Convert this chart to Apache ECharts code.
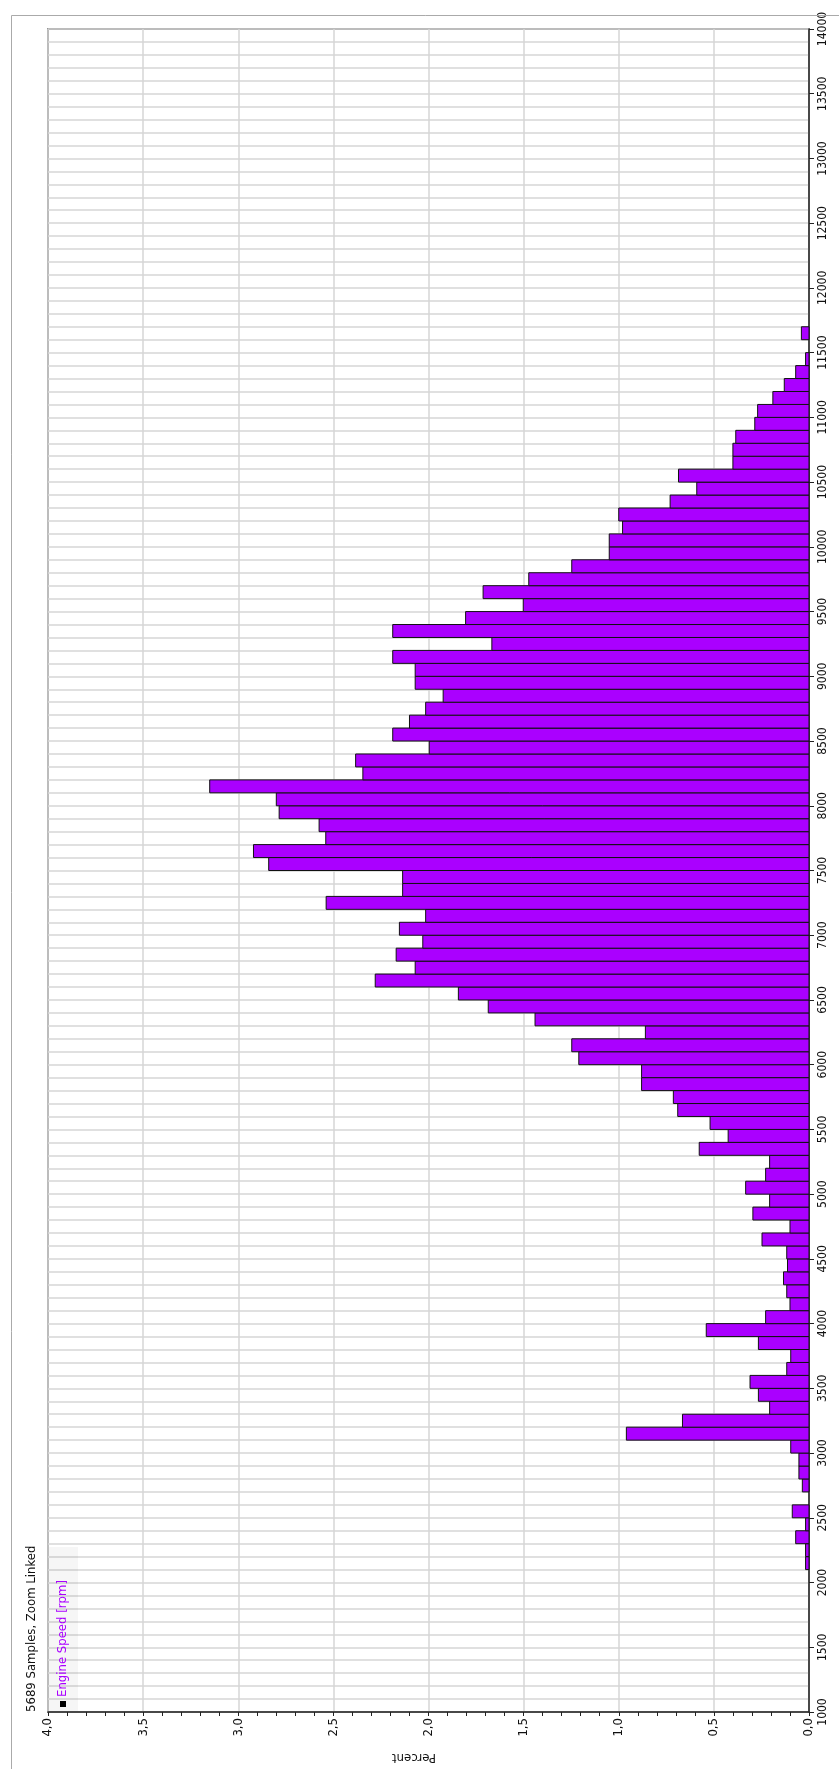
<!DOCTYPE html>
<html>
<head>
<meta charset="utf-8">
<script src="https://cdn.jsdelivr.net/npm/echarts@6/dist/echarts.min.js"></script>
<style>
html,body{margin:0;padding:0;background:#fff;}
#chart{width:839px;height:1769px;}
</style>
</head>
<body>
<div id="chart"></div>
<script>
// rpm bin lower edges (bins are 100 rpm wide)
const rpmStart = [2100,2200,2300,2400,2500,2600,2700,2800,2900,3000,
  3100,3200,3300,3400,3500,3600,3700,3800,3900,4000,
  4100,4200,4300,4400,4500,4600,4700,4800,4900,5000,
  5100,5200,5300,5400,5500,5600,5700,5800,5900,6000,
  6100,6200,6300,6400,6500,6600,6700,6800,6900,7000,
  7100,7200,7300,7400,7500,7600,7700,7800,7900,8000,
  8100,8200,8300,8400,8500,8600,8700,8800,8900,9000,
  9100,9200,9300,9400,9500,9600,9700,9800,9900,10000,
  10100,10200,10300,10400,10500,10600,10700,10800,10900,11000,
  11100,11200,11300,11400,11500,11600];
const rpmEnd = rpmStart.map(r => r + 100);
// percent of samples in each bin
const percent = [0.018,0.018,0.07,0.018,0.088,0,0.035,0.053,0.053,0.096,
  0.96,0.665,0.207,0.266,0.31,0.117,0.096,0.266,0.54,0.228,
  0.10,0.117,0.134,0.113,0.117,0.247,0.10,0.295,0.207,0.333,
  0.228,0.207,0.577,0.425,0.52,0.69,0.713,0.88,0.88,1.21,
  1.247,0.86,1.44,1.686,1.843,2.28,2.07,2.17,2.03,2.153,
  2.015,2.538,2.136,2.136,2.84,2.92,2.54,2.575,2.785,2.80,
  3.15,2.345,2.383,1.996,2.188,2.10,2.015,1.923,2.07,2.07,
  2.188,1.667,2.188,1.805,1.502,1.713,1.473,1.247,1.05,1.05,
  0.98,1.0,0.73,0.59,0.686,0.40,0.40,0.385,0.285,0.27,
  0.19,0.13,0.07,0.018,0,0.04];
const rpmTicks = {min: 1000, max: 14000, step: 500};
const pctTicks = {min: 0, max: 4, step: 0.5};
const titleText = '5689 Samples, Zoom Linked';
const seriesName = 'Engine Speed [rpm]';
const xName = 'Percent';

const FONT = "'Liberation Sans Narrow','DejaVu Sans Condensed','Liberation Sans',sans-serif";
const PURPLE = '#aa00ff';
const GRIDC = '#d6d6d6';

const data = rpmStart.map((r, i) => [r, rpmEnd[i], percent[i]]);

const chart = echarts.init(document.getElementById('chart'), null, {renderer: 'canvas'});
chart.setOption({
  animation: false,
  backgroundColor: '#fff',
  grid: {left: 48, right: 30, top: 29, bottom: 57, show: true, borderColor: '#444', borderWidth: 1.5, backgroundColor: '#fff'},
  xAxis: {
    type: 'value', inverse: true, min: pctTicks.min, max: pctTicks.max, interval: pctTicks.step,
    axisLine: {show: true, lineStyle: {color: '#222', width: 1.5}},
    axisTick: {show: true, length: 4, lineStyle: {color: '#222'}},
    minorTick: {show: true, splitNumber: 5, length: 4, lineStyle: {color: '#222'}},
    splitLine: {show: true, lineStyle: {color: GRIDC, width: 1.5}},
    axisLabel: {rotate: 90, fontFamily: FONT, fontSize: 13, color: '#111', margin: 6,
      formatter: v => v.toFixed(1).replace('.', ',')}
  },
  yAxis: {
    type: 'value', position: 'right', min: rpmTicks.min, max: rpmTicks.max, interval: rpmTicks.step,
    axisLine: {show: true, lineStyle: {color: '#222', width: 1.5}},
    axisTick: {show: true, length: 5, lineStyle: {color: '#222'}},
    minorTick: {show: false, splitNumber: 5},
    splitLine: {show: true, lineStyle: {color: GRIDC, width: 1.5}},
    minorSplitLine: {show: true, lineStyle: {color: GRIDC, width: 1.5}},
    axisLabel: {rotate: 90, fontFamily: FONT, fontSize: 12, color: '#111', margin: 8,
      formatter: v => String(v)}
  },
  series: [{
    type: 'custom', name: seriesName,
    encode: {x: 2, y: [0, 1]},
    data: data,
    renderItem: function (params, api) {
      const lo = api.value(0), hi = api.value(1), v = api.value(2);
      if (!v) return null;
      const p0 = api.coord([0, lo]);
      const p1 = api.coord([v, hi]);
      return {
        type: 'rect',
        shape: {x: Math.min(p0[0], p1[0]), y: Math.min(p0[1], p1[1]),
                width: Math.abs(p1[0] - p0[0]), height: Math.abs(p1[1] - p0[1])},
        style: {fill: PURPLE, stroke: '#111', lineWidth: 1}
      };
    }
  }],
  graphic: [
    {type: 'rect', left: 9, top: 13, shape: {width: 840, height: 1770}, style: {fill: 'none', stroke: '#aaa', lineWidth: 1}, z: 100},
    {type: 'rect', x: 49, y: 1547, shape: {width: 29, height: 164}, style: {fill: 'rgba(0,0,0,0.035)'}, z: 100},
    {type: 'rect', x: 60, y: 1701, shape: {width: 6, height: 6}, style: {fill: '#000'}, z: 101},
    {type: 'text', x: 63, y: 1697, rotation: Math.PI / 2, z: 101,
      style: {text: seriesName, fill: PURPLE, font: '13px ' + FONT, textAlign: 'left', textVerticalAlign: 'middle'}},
    {type: 'text', x: 32, y: 1712, rotation: Math.PI / 2, z: 101,
      style: {text: titleText, fill: '#111', font: '13px ' + FONT, textAlign: 'left', textVerticalAlign: 'middle'}},
    {type: 'text', x: 414, y: 1757, rotation: Math.PI, z: 101,
      style: {text: xName, fill: '#111', font: '13px ' + FONT, textAlign: 'center', textVerticalAlign: 'middle'}}
  ]
});
</script>
</body>
</html>
